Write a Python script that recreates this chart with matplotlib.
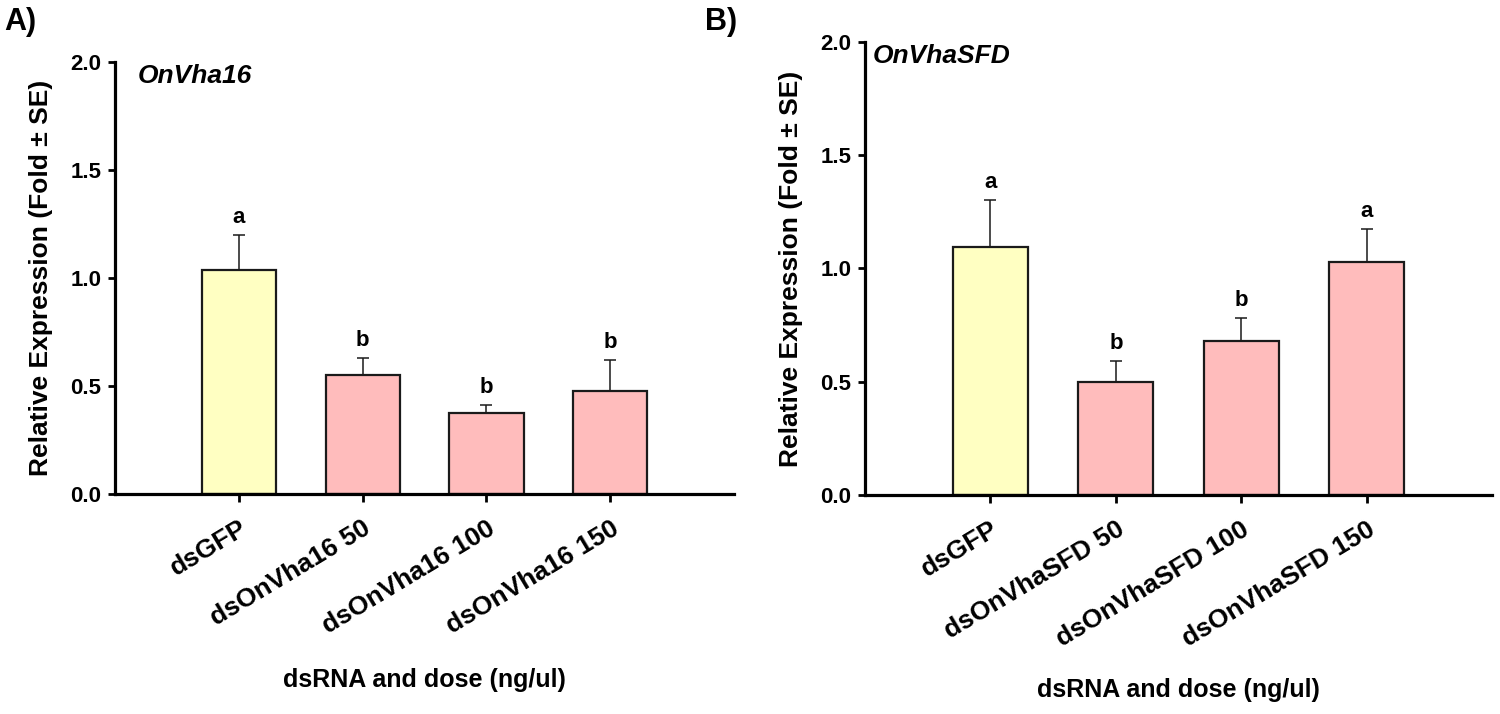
import matplotlib
matplotlib.use('Agg')
import matplotlib.pyplot as plt

plt.rcParams['font.family'] = ['Liberation Sans', 'DejaVu Sans']
plt.rcParams['font.weight'] = 'bold'

# panel A data
genes_a = 'OnVha16'
labels_a = ['dsGFP', 'dsOnVha16 50', 'dsOnVha16 100', 'dsOnVha16 150']
mean_a = [1.037, 0.549, 0.377, 0.479]
se_a = [0.163, 0.079, 0.037, 0.143]
letters_a = ['a', 'b', 'b', 'b']

# panel B data
genes_b = 'OnVhaSFD'
labels_b = ['dsGFP', 'dsOnVhaSFD 50', 'dsOnVhaSFD 100', 'dsOnVhaSFD 150']
mean_b = [1.096, 0.500, 0.681, 1.027]
se_b = [0.206, 0.092, 0.099, 0.149]
letters_b = ['a', 'b', 'b', 'a']

yticks = [0.0, 0.5, 1.0, 1.5, 2.0]
bar_colors = ['#FFFFC2', '#FFBCBC', '#FFBCBC', '#FFBCBC']

fig = plt.figure(figsize=(15, 7.14), dpi=100)
ax_a = fig.add_axes([0.0767, 0.3081, 0.4127, 0.605])
ax_b = fig.add_axes([0.5767, 0.3067, 0.418, 0.6345])


def draw_panel(ax, gene, labels, means, ses, letters, title_x, xlab_y):
    x = list(range(len(labels)))
    ax.bar(x, means, width=0.6, color=bar_colors, edgecolor='#1a1a1a',
           linewidth=1.6, zorder=2)
    ax.errorbar(x, means, yerr=[[0] * len(ses), ses], fmt='none',
                ecolor='#1a1a1a', elinewidth=1.1, capsize=4, capthick=1.1,
                zorder=3)
    for xi, m, s, lt in zip(x, means, ses, letters):
        ax.annotate(lt, (xi, m + s), xytext=(0, 5), textcoords='offset points',
                    ha='center', va='bottom', fontsize=16, fontweight='bold')
    ax.set_xlim(-1, 4)
    ax.set_ylim(0, 2.0)
    ax.set_yticks(yticks)
    ax.set_yticklabels(['%.1f' % t for t in yticks])
    ax.set_xticks(x)
    ax.set_xticklabels(labels, rotation=31, ha='right', va='top',
                       rotation_mode='anchor', fontsize=19,
                       fontweight='bold')
    for sp in ['top', 'right']:
        ax.spines[sp].set_visible(False)
    for sp in ['left', 'bottom']:
        ax.spines[sp].set_linewidth(2.3)
    ax.tick_params(axis='y', direction='out', length=5, width=2,
                   labelsize=16, pad=5)
    ax.tick_params(axis='x', direction='out', length=6, width=2, pad=10)
    ax.set_ylabel('Relative Expression (Fold \u00b1 SE)', fontsize=19,
                  fontweight='bold', labelpad=12)
    ax.set_xlabel('dsRNA and dose (ng/ul)', fontsize=18, fontweight='bold',
                  va='center')
    ax.xaxis.set_label_coords(0.5, xlab_y)
    ax.text(title_x, 0.995, gene, transform=ax.transAxes, ha='left',
            va='top', fontsize=19, fontstyle='italic', fontweight='bold')


draw_panel(ax_a, genes_a, labels_a, mean_a, se_a, letters_a, 0.037, -0.43)
draw_panel(ax_b, genes_b, labels_b, mean_b, se_b, letters_b, 0.012, -0.43)

fig.text(0.003, 0.99, 'A)', ha='left', va='top', fontsize=22, fontweight='bold')
fig.text(0.47, 0.99, 'B)', ha='left', va='top', fontsize=22, fontweight='bold')

fig.savefig('out.png', dpi=100, facecolor='white')
